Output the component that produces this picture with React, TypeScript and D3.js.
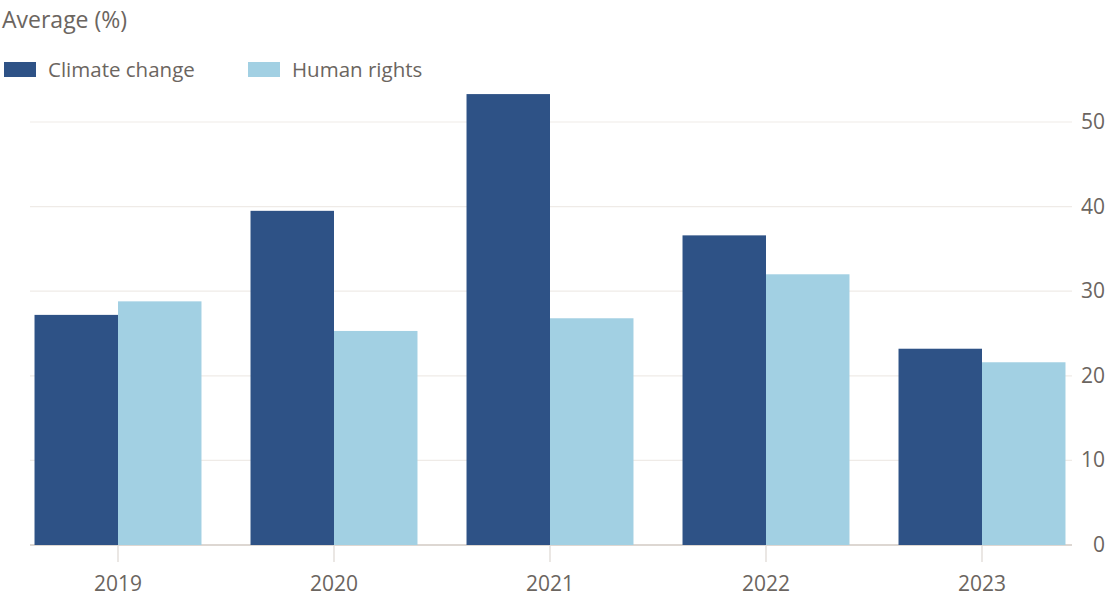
import React, { useEffect, useRef } from 'react';
import * as d3 from 'd3';

const years = ['2019', '2020', '2021', '2022', '2023'];
const climateChange = [27.2, 39.5, 53.3, 36.6, 23.2];
const humanRights = [28.8, 25.3, 26.8, 32.0, 21.6];
const seriesNames = ['Climate change', 'Human rights'];
const yTicks = [0, 10, 20, 30, 40, 50];

const colors = ['#2e5286', '#a2d0e3'];
const textColor = '#6b6560';
const font = '"Open Sans", "Noto Sans", sans-serif';

export default function App() {
  const svgRef = useRef<SVGSVGElement>(null);

  useEffect(() => {
    if (!svgRef.current) return;
    const svg = d3.select(svgRef.current);
    svg.selectAll('*').remove();

    const x = d3.scaleBand<string>().domain(years).range([10, 1090]).paddingInner(0.227).paddingOuter(0.1135);
    const xs = d3.scaleBand<number>().domain([0, 1]).range([0, x.bandwidth()]);
    const y = d3.scaleLinear().domain([0, 50]).range([545, 122]);

    // title
    svg.append('text')
      .attr('x', 2).attr('y', 28)
      .attr('fill', textColor)
      .style('font-family', font).style('font-size', '23px')
      .text('Average (%)');

    // legend
    const legendX = [4, 248];
    seriesNames.forEach((name, i) => {
      svg.append('rect')
        .attr('x', legendX[i]).attr('y', 62)
        .attr('width', 32).attr('height', 15)
        .attr('fill', colors[i]);
      svg.append('text')
        .attr('x', legendX[i] + 44).attr('y', 77)
        .attr('fill', textColor)
        .style('font-family', font).style('font-size', '20.5px')
        .text(name);
    });

    // gridlines + y labels
    yTicks.forEach(t => {
      svg.append('line')
        .attr('x1', 30).attr('x2', 1072)
        .attr('y1', y(t)).attr('y2', y(t))
        .attr('stroke', t === 0 ? '#ddd7d2' : '#efebe7')
        .attr('stroke-width', t === 0 ? 2 : 1.2);
      svg.append('text')
        .attr('x', 1105).attr('y', y(t) + 7)
        .attr('text-anchor', 'end')
        .attr('fill', textColor)
        .style('font-family', font).style('font-size', '21px')
        .text(t);
    });

    // bars
    const data = years.map((yr, i) => ({ yr, vals: [climateChange[i], humanRights[i]] }));
    const groups = svg.selectAll('.grp')
      .data(data)
      .enter()
      .append('g')
      .attr('transform', d => `translate(${x(d.yr)},0)`);
    groups.selectAll('rect')
      .data(d => d.vals.map((v, k) => ({ v, k })))
      .enter()
      .append('rect')
      .attr('x', d => xs(d.k)!)
      .attr('width', xs.bandwidth())
      .attr('y', d => y(d.v))
      .attr('height', d => y(0) - y(d.v))
      .attr('fill', d => colors[d.k]);

    // x ticks + labels
    years.forEach(yr => {
      const cx = x(yr)! + x.bandwidth() / 2;
      svg.append('line')
        .attr('x1', cx).attr('x2', cx)
        .attr('y1', 546).attr('y2', 562)
        .attr('stroke', '#ddd7d2').attr('stroke-width', 1.2);
      svg.append('text')
        .attr('x', cx).attr('y', 591)
        .attr('text-anchor', 'middle')
        .attr('fill', textColor)
        .style('font-family', font).style('font-size', '21px')
        .text(yr);
    });
  }, []);

  return (
    <div style={{ position: 'fixed', left: 0, top: 0, width: 1108, height: 604, background: '#fff' }}>
      <svg ref={svgRef} width={1108} height={604} />
    </div>
  );
}
